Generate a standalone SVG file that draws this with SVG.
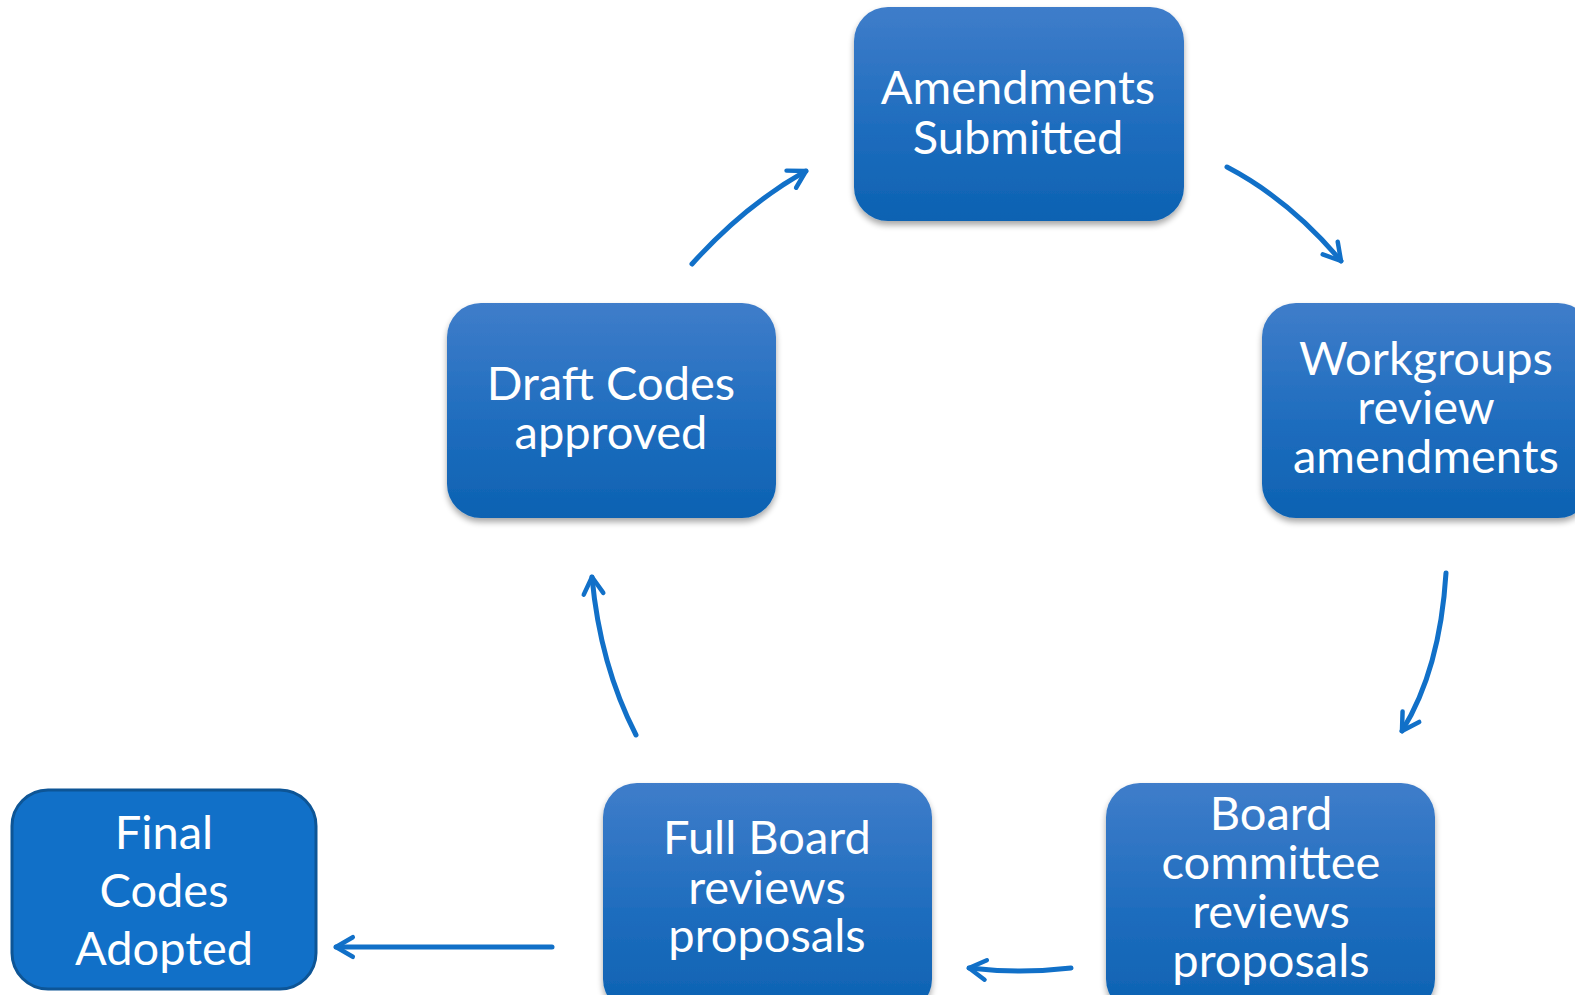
<svg xmlns="http://www.w3.org/2000/svg" width="1575" height="995" viewBox="0 0 1575 995">
<style>
.box{fill:url(#g);filter:url(#sh)}
.lbl{font-family:Lato,"Open Sans",sans-serif;font-size:47px;fill:#fff;text-anchor:middle}
.con{fill:none;stroke:#1170c8;stroke-width:5;stroke-linecap:round;marker-end:url(#ah)}
</style>
<defs>
<linearGradient id="g" x1="0" y1="0" x2="0" y2="1">
<stop offset="0" stop-color="#3f7dca"/>
<stop offset="0.55" stop-color="#1f6dbe"/>
<stop offset="1" stop-color="#0c62b2"/>
</linearGradient>
<filter id="sh" x="-10%" y="-10%" width="120%" height="130%">
<feGaussianBlur in="SourceAlpha" stdDeviation="3"/>
<feOffset dx="0" dy="4" result="b"/>
<feComponentTransfer><feFuncA type="linear" slope="0.35"/></feComponentTransfer>
<feMerge><feMergeNode/><feMergeNode in="SourceGraphic"/></feMerge>
</filter>
<marker id="ah" viewBox="0 0 20 20" refX="16" refY="10" markerWidth="5.6" markerHeight="5.6" orient="auto" markerUnits="strokeWidth">
<polyline points="4,3 16,10 4,17" fill="none" stroke="#1170c8" stroke-width="3.2" stroke-linecap="round" stroke-linejoin="round"/>
</marker>
</defs>
<g id="connectors">
<path class="con" d="M692,264 Q745,205 806,171"/>
<path class="con" d="M1227,167 Q1290,200 1341,261"/>
<path class="con" d="M1446,573 Q1440,670 1402,731"/>
<path class="con" d="M1071,968 Q1020,974 969,968"/>
<path class="con" d="M636,735 Q600,665 592,577"/>
<path class="con" d="M552,947 L336,947"/>
</g>
<g id="n-amend">
<rect class="box" x="854" y="7" width="330" height="214" rx="34"/>
<text class="lbl" x="1018" y="104">Amendments</text>
<text class="lbl" x="1018" y="154">Submitted</text>
</g>
<g id="n-work">
<rect class="box" x="1262" y="303" width="330" height="215" rx="34"/>
<text class="lbl" x="1426" y="375">Workgroups</text>
<text class="lbl" x="1426" y="424">review</text>
<text class="lbl" x="1426" y="473">amendments</text>
</g>
<g id="n-draft">
<rect class="box" x="447" y="303" width="329" height="215" rx="34"/>
<text class="lbl" x="611" y="400">Draft Codes</text>
<text class="lbl" x="611" y="449">approved</text>
</g>
<g id="n-board">
<rect class="box" x="1106" y="783" width="329" height="230" rx="34"/>
<text class="lbl" x="1271" y="830">Board</text>
<text class="lbl" x="1271" y="879">committee</text>
<text class="lbl" x="1271" y="928">reviews</text>
<text class="lbl" x="1271" y="977">proposals</text>
</g>
<g id="n-full">
<rect class="box" x="603" y="783" width="329" height="230" rx="34"/>
<text class="lbl" x="767" y="854">Full Board</text>
<text class="lbl" x="767" y="904">reviews</text>
<text class="lbl" x="767" y="952">proposals</text>
</g>
<g id="n-final">
<rect x="12" y="790" width="304" height="199" rx="36" fill="#1170c8" stroke="#0d5596" stroke-width="3"/>
<text class="lbl" x="164" y="849">Final</text>
<text class="lbl" x="164" y="907">Codes</text>
<text class="lbl" x="164" y="965">Adopted</text>
</g>
</svg>
